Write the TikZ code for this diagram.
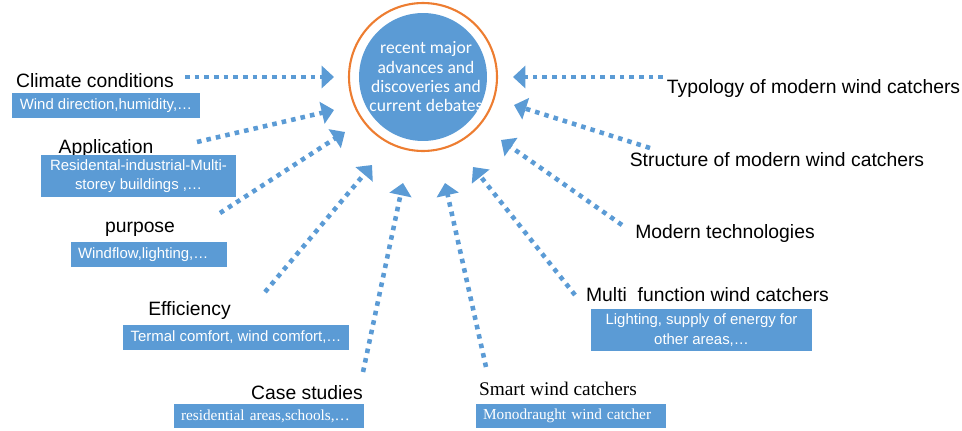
\documentclass[tikz,border=0pt]{standalone}
\usepackage{fontspec}
\setmainfont{Liberation Sans}
\newfontfamily\hubfont{Carlito}
\newfontfamily\serifbox{Liberation Serif}
\usepackage{xcolor}
\usetikzlibrary{arrows.meta,positioning}
\definecolor{boxblue}{HTML}{5B9BD5}
\definecolor{ringorange}{HTML}{ED7D31}

\tikzset{
  topic/.style={font=\fontsize{11}{13}\selectfont, text=black, inner sep=0pt, anchor=base},
  infobox/.style={fill=boxblue, text=white, font=\fontsize{8.5}{11}\selectfont, align=center, inner sep=2pt},
  leftbox/.style={infobox, align=left, inner xsep=0.14cm},
  flow/.style={boxblue, line width=2.6pt, dash pattern=on 2.6pt off 2.9pt,
    -{Triangle[length=7pt,width=12.5pt]}},
}

\begin{document}
\begin{tikzpicture}[x=0.02cm,y=-0.02cm]
    \useasboundingbox (0,0) rectangle (962,430);

    % Central circle
    \node[circle, fill=boxblue, minimum size=2.56cm, inner sep=0pt] (hub) at (423,77) {};
    \node[text=white, align=center, inner sep=0pt, font=\hubfont\fontsize{10}{11}\selectfont] (hubtext) at (426,77)
          {recent major\\advances and\\discoveries and\\current debates};
    \node[circle, draw=ringorange, line width=1.2pt, minimum size=2.96cm] (ring) at (hub) {};

    % Left side
    \node[topic] (climate) at (95,87) {Climate conditions};
    \node[infobox, minimum width=3.76cm, minimum height=0.5cm] (climatebox) at (106,105.5) {Wind direction,humidity,…};

    \node[topic] (application) at (106,153) {Application};
    \node[infobox, minimum width=3.9cm, minimum height=0.84cm] (applicationbox) at (138.5,176)
        {Residental-industrial-Multi-\\storey buildings ,…};

    \node[topic] (purpose) at (140,232) {purpose};
    \node[leftbox, text width=2.84cm, minimum height=0.5cm] (purposebox) at (149,254.5) {Windflow,lighting,…};

    \node[topic] (efficiency) at (189.5,315) {Efficiency};
    \node[infobox, minimum width=4.52cm, minimum height=0.5cm] (efficiencybox) at (236,337.5) {Termal comfort, wind comfort,…};

    % Bottom
    \node[topic] (cases) at (307,399) {Case studies};
    \node[leftbox, text width=3.52cm, minimum height=0.48cm, font=\serifbox\fontsize{8.7}{11}\selectfont] (casesbox) at (269,416)
        {residential areas,schools,…};

    \node[topic, font=\serifbox\fontsize{11}{13}\selectfont] (smart) at (558,395) {Smart wind catchers};
    \node[leftbox, text width=3.52cm, minimum height=0.48cm, font=\serifbox\fontsize{8.7}{11}\selectfont] (smartbox) at (571,416)
        {Monodraught wind catcher};

    % Right side
    \node[topic] (multi) at (707.5,301) {Multi\ \ function wind catchers};
    \node[infobox, minimum width=4.42cm, minimum height=0.84cm] (multibox) at (701.5,330)
        {Lighting, supply of energy for\\other areas,…};

    \node[topic] (moderntech) at (725,238) {Modern technologies};
    \node[topic] (structure) at (777,166) {Structure of modern wind catchers};
    \node[topic] (typology) at (813.5,93) {Typology of modern wind catchers};

    % Arrow ends
    \coordinate (climateS) at (185,77);     \coordinate (climateT) at (334,77);
    \coordinate (applicationS) at (197,142); \coordinate (applicationT) at (334,110);
    \coordinate (purposeS) at (220,213);    \coordinate (purposeT) at (345,132);
    \coordinate (efficiencyS) at (265,292); \coordinate (efficiencyT) at (372,165);
    \coordinate (casesS) at (363,372);      \coordinate (casesT) at (403,183);
    \coordinate (smartS) at (486,367);      \coordinate (smartT) at (445,183);
    \coordinate (multiS) at (575,295);      \coordinate (multiT) at (473,167);
    \coordinate (moderntechS) at (622,225); \coordinate (moderntechT) at (501,140);
    \coordinate (structureS) at (650,148);  \coordinate (structureT) at (514,105);
    \coordinate (typologyS) at (663,77);    \coordinate (typologyT) at (513,77);

    % Arrows
    \draw[flow] (climateS) -- (climateT);
    \draw[flow] (applicationS) -- (applicationT);
    \draw[flow] (purposeS) -- (purposeT);
    \draw[flow] (efficiencyS) -- (efficiencyT);
    \draw[flow] (casesS) -- (casesT);
    \draw[flow] (smartS) -- (smartT);
    \draw[flow] (multiS) -- (multiT);
    \draw[flow] (moderntechS) -- (moderntechT);
    \draw[flow] (structureS) -- (structureT);
    \draw[flow] (typologyS) -- (typologyT);
\end{tikzpicture}
\end{document}
